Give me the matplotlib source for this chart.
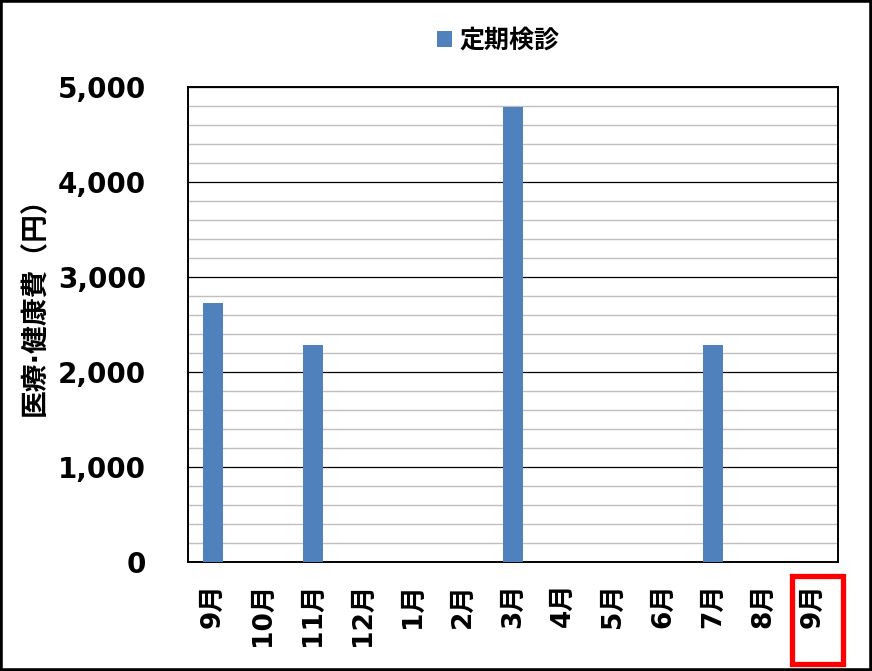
import numpy as np
import matplotlib.pyplot as plt
import matplotlib.patches as patches
from matplotlib.ticker import MultipleLocator, FuncFormatter

plt.rcParams['font.family'] = ['DejaVu Sans', 'Noto Sans CJK JP']
plt.rcParams['font.weight'] = 'bold'

# データ
months = ['9月', '10月', '11月', '12月', '1月', '2月', '3月', '4月', '5月', '6月', '7月', '8月', '9月']
kenshin = [2730, 0, 2280, 0, 0, 0, 4790, 0, 0, 0, 2280, 0, 0]
series_name = '定期検診'
ylabel = '医療·健康費（円）'

fig = plt.figure(figsize=(8.72, 6.71), dpi=100)
ax = fig.add_axes([188 / 872, 1 - 562 / 671, 650 / 872, 475 / 671])

x = np.arange(len(months))
ax.bar(x, kenshin, width=0.4, color='#4F81BD', label=series_name, zorder=3)

ax.set_xlim(-0.5, len(months) - 0.5)
ax.set_ylim(0, 5000)
ax.yaxis.set_major_locator(MultipleLocator(1000))
ax.yaxis.set_minor_locator(MultipleLocator(200))
ax.yaxis.set_major_formatter(FuncFormatter(lambda v, p: f'{int(v):,}'))
ax.grid(which='minor', axis='y', color='#BFBFBF', lw=1.0, zorder=1)
ax.grid(which='major', axis='y', color='black', lw=0.9, zorder=2)
ax.tick_params(axis='y', which='both', length=0, pad=30, labelsize=20)
ax.tick_params(axis='x', length=0, pad=15, labelsize=19)

ax.set_xticks(x)
ax.set_xticklabels(months, rotation=90)
for lab in ax.get_yticklabels():
    lab.set_fontweight('bold')

for s in ax.spines.values():
    s.set_color('black')
    s.set_linewidth(1.4)

fig.text(35 / 872, 1 - 300 / 671, ylabel, rotation=90, ha='center', va='center',
         fontsize=20, fontweight='bold')

ax.legend(loc='center', bbox_to_anchor=(498 / 872, 1 - 41 / 671),
          bbox_transform=fig.transFigure, frameon=False, fontsize=18,
          handlelength=0.6, handleheight=0.6, handletextpad=0.3)

# 最後の9月を赤枠で強調
hl = patches.Rectangle((11.58, -0.2147), 1.02, 0.1852, transform=ax.get_xaxis_transform(),
                       fill=False, ec='#FF0000', lw=3.8, clip_on=False, zorder=5)
ax.add_patch(hl)

# 外枠
fig.add_artist(patches.Rectangle((0, 0), 1, 1, transform=fig.transFigure,
                                 fill=False, ec='black', lw=4))

fig.savefig('out.png', dpi=100)
